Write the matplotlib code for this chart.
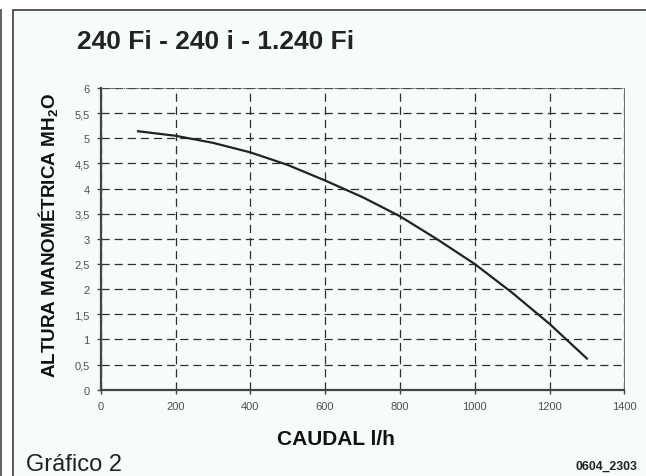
import matplotlib
matplotlib.use("Agg")
import matplotlib.pyplot as plt
from matplotlib.patches import Rectangle
import numpy as np

plt.rcParams['font.family'] = ['Liberation Sans', 'DejaVu Sans']
plt.rcParams['mathtext.fontset'] = 'custom'
plt.rcParams['mathtext.rm'] = 'Liberation Sans:bold'
plt.rcParams['mathtext.it'] = 'Liberation Sans:bold'
plt.rcParams['mathtext.bf'] = 'Liberation Sans:bold'

# curve (caudal l/h, altura m H2O)
caudal = [100, 200, 300, 400, 500, 600, 700, 800, 900, 1000, 1100, 1200, 1300]
altura = [5.14, 5.05, 4.91, 4.72, 4.47, 4.16, 3.83, 3.45, 2.99, 2.50, 1.93, 1.31, 0.62]

x_ticks = [0, 200, 400, 600, 800, 1000, 1200, 1400]
y_ticks = [0, 0.5, 1, 1.5, 2, 2.5, 3, 3.5, 4, 4.5, 5, 5.5, 6]
y_labels = ["0", "0,5", "1", "1,5", "2", "2,5", "3", "3,5", "4", "4,5", "5", "5,5", "6"]

title = "240 Fi - 240 i - 1.240 Fi"
xlabel = "CAUDAL l/h"
ylabel = r"ALTURA MANOMÉTRICA MH$_{2}$O"
caption = "Gráfico 2"
code = "0604_2303"

W, H = 646, 477
fig = plt.figure(figsize=(W/100, H/100), dpi=100)
fig.patch.set_facecolor("white")

# outer frame
bg = "#f6fbfc"
fig.patches.append(Rectangle((12.5/W, -0.05), 1.0, 1 - 10.5/H + 0.05, transform=fig.transFigure,
                             facecolor=bg, edgecolor="#2a2a2a", linewidth=1.1, zorder=-10))
fig.patches.append(Rectangle((0, 0), 1.6/W, 1 - 10/H, transform=fig.transFigure,
                             facecolor="#666666", edgecolor="none", zorder=-10))

ax = fig.add_axes([100.7/W, 1 - 390.7/H, 523.6/W, 301.7/H])
ax.patch.set_alpha(0)

ax.plot(caudal, altura, color="#222222", linewidth=1.6, zorder=3)

ax.set_xlim(0, 1400)
ax.set_ylim(0, 6)
ax.set_xticks(x_ticks)
ax.set_xticklabels([str(v) for v in x_ticks])
ax.set_yticks(y_ticks)
ax.set_yticklabels(y_labels)

ax.grid(True, color="#2e2e2e", linewidth=0.9, linestyle=(0, (6.5, 4)))
ax.tick_params(axis="both", direction="out", length=3, width=1.0, color="#444444",
               labelsize=8, labelcolor="#505050", pad=5)

for s in ["left", "bottom"]:
    ax.spines[s].set_color("#444444")
    ax.spines[s].set_linewidth(1.6)
ax.spines["top"].set_color("#555555")
ax.spines["top"].set_linewidth(0.6)
ax.spines["top"].set_linestyle((0, (5, 2, 1, 2)))
ax.spines["right"].set_color("#555555")
ax.spines["right"].set_linewidth(0.6)
ax.spines["right"].set_linestyle((0, (2, 1)))

fig.text(77/W, 1 - 49/H, title, fontsize=19, fontweight="bold", color="#222222",
         ha="left", va="baseline")
fig.text(336/W, 1 - 445/H, xlabel, fontsize=15, fontweight="bold", color="#111111",
         ha="center", va="baseline")
fig.text(48.5/W, 1 - 236/H, ylabel, fontsize=13.6, fontweight="bold", color="#111111",
         ha="center", va="center", rotation=90)
fig.text(26/W, 1 - 471/H, caption, fontsize=17, color="#222222", ha="left", va="baseline")
fig.text(637/W, 1 - 470/H, code, fontsize=8.8, fontweight="bold", color="#222222",
         ha="right", va="baseline")

fig.savefig("out.png", dpi=100, facecolor=fig.get_facecolor())
